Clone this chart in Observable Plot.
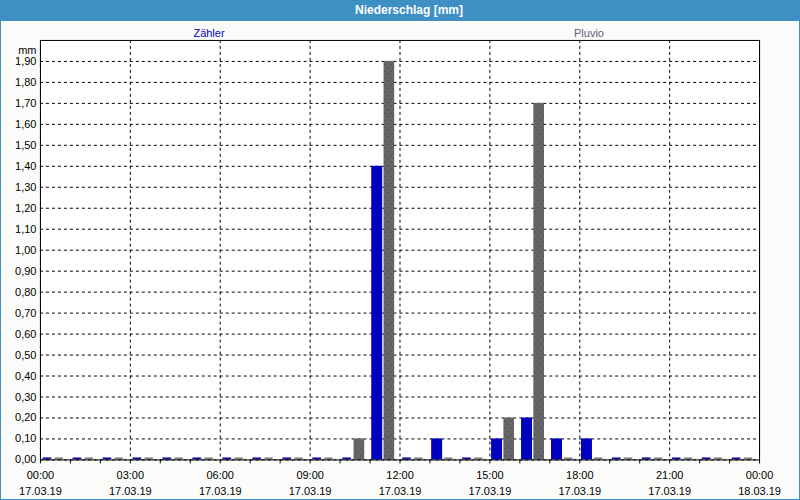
<!DOCTYPE html>
<html><head><meta charset="utf-8">
<script src="https://cdn.jsdelivr.net/npm/d3@7"></script>
<script src="https://cdn.jsdelivr.net/npm/@observablehq/plot@0.6"></script>
<style>
html,body{margin:0;padding:0;background:#fff;}
#page{position:relative;width:800px;height:500px;box-sizing:border-box;border:1px solid #3d8fc4;background:#fbfcf9;overflow:hidden;font-family:"Liberation Sans",Arial,sans-serif;}
#head{position:absolute;left:-1px;top:-1px;width:800px;height:21px;background:#3d8fc4;color:#fff;font-weight:bold;font-size:12px;line-height:21px;}
#head span{position:absolute;left:409px;transform:translateX(-50%);white-space:nowrap;}
.leg{position:absolute;top:25px;font-size:11px;line-height:14px;transform:translateX(-50%);white-space:nowrap;}
#chart{position:absolute;left:-1px;top:-1px;}
</style></head>
<body>
<div id="page">
  <div id="chart"></div>
  <div id="head"><span id="title"></span></div>
</div>
<script>
const title = "Niederschlag [mm]";
const seriesNames = ["Zähler", "Pluvio"];
const seriesColors = ["#0000c0", "#666666"];
const legendColors = ["#0000c0", "#5c5c80"];
const hourStarts = [0,1,2,3,4,5,6,7,8,9,10,11,12,13,14,15,16,17,18,19,20,21,22,23];
const zaehler = [0,0,0,0,0,0,0,0,0,0,0,1.4,0,0.1,0,0.1,0.2,0.1,0.1,0,0,0,0,0];
const pluvio  = [0,0,0,0,0,0,0,0,0,0,0.1,1.9,0,0,0,0.2,1.7,0,0,0,0,0,0,0];
const xTickHours = [0,3,6,9,12,15,18,21,24];
const xTimeLabels = ["00:00","03:00","06:00","09:00","12:00","15:00","18:00","21:00","00:00"];
const xDateLabels = ["17.03.19","17.03.19","17.03.19","17.03.19","17.03.19","17.03.19","17.03.19","17.03.19","18.03.19"];
const minorTickHours = [0,1,2,3,4,5,6,7,8,9,10,11,12,13,14,15,16,17,18,19,20,21,22,23,24];
const yTicks = [0,0.1,0.2,0.3,0.4,0.5,0.6,0.7,0.8,0.9,1.0,1.1,1.2,1.3,1.4,1.5,1.6,1.7,1.8,1.9];
const yUnit = "mm";

document.getElementById("title").textContent = title;
const page = document.getElementById("page");
const legX = [209, 589];
seriesNames.forEach((n, i) => {
  const s = document.createElement("div");
  s.className = "leg";
  s.style.left = (legX[i] - 1) + "px";
  s.style.color = legendColors[i];
  s.textContent = n;
  page.appendChild(s);
});

const rows = [];
hourStarts.forEach((h, i) => {
  rows.push({hour: h, series: 0, value: zaehler[i]});
  rows.push({hour: h, series: 1, value: pluvio[i]});
});
const bars = rows.filter(d => d.value > 0);
const stubs = rows.filter(d => d.value === 0);
const off = [[0.057, 0.423], [0.467, 0.823]];
const stubOff = [[0.09, 0.38], [0.49, 0.77]];

const labelMap = new Map(xTickHours.map((h, i) => [h, xTimeLabels[i] + "\n" + xDateLabels[i]]));

const chart = Plot.plot({
  width: 800,
  height: 500,
  marginLeft: 40,
  marginRight: 40,
  marginTop: 40,
  marginBottom: 40,
  style: "background: transparent; font-family: 'Liberation Sans', Arial, sans-serif; font-size: 11px; color: #000; overflow: visible;",
  x: {domain: [0, 24], axis: null},
  y: {domain: [0, 2], axis: null},
  marks: [
    Plot.frame({fill: "white", stroke: null}),
    Plot.gridY(yTicks, {stroke: "#000", strokeOpacity: 1, strokeDasharray: "3,3"}),
    Plot.gridX(xTickHours, {stroke: "#000", strokeOpacity: 1, strokeDasharray: "3,3"}),
    Plot.rectY(bars, {
      x1: d => d.hour + off[d.series][0],
      x2: d => d.hour + off[d.series][1],
      y1: 0, y2: "value",
      fill: d => d.series === 0 ? seriesColors[0] : "url(#dotpat)"
    }),
    Plot.rectY(stubs, {
      x1: d => d.hour + stubOff[d.series][0],
      x2: d => d.hour + stubOff[d.series][1],
      y1: 0, y2: 0, insetTop: -2,
      fill: d => d.series === 0 ? "#1010a0" : "#808080"
    }),
    Plot.frame({stroke: "#000", strokeOpacity: 1}),
    Plot.axisX(minorTickHours, {tickSize: 4, tickFormat: () => "", stroke: "#000"}),
    Plot.axisX(xTickHours, {tickSize: 0, tickPadding: 8, lineHeight: 1.45, tickFormat: d => labelMap.get(d), fill: "#000", fontSize: 11}),
    Plot.axisY(yTicks, {tickSize: 0, tickPadding: 4, tickFormat: d => d.toFixed(2).replace(".", ","), fill: "#000", fontSize: 11, label: null}),
    Plot.text([yUnit], {frameAnchor: "top-left", textAnchor: "end", dx: -4, dy: 6, fill: "#000", fontSize: 11})
  ]
});

const svg = d3.select(chart);
const defs = svg.insert("defs", ":first-child");
const pat = defs.append("pattern").attr("id", "dotpat").attr("patternUnits", "userSpaceOnUse")
  .attr("width", 6).attr("height", 7);
pat.append("rect").attr("width", 6).attr("height", 7).attr("fill", seriesColors[1]);
pat.append("rect").attr("x", 1).attr("y", 1).attr("width", 1).attr("height", 1).attr("fill", "#3a3a70");
pat.append("rect").attr("x", 4).attr("y", 4).attr("width", 1).attr("height", 1).attr("fill", "#3a3a70");

document.getElementById("chart").appendChild(chart);
</script>
</body></html>
